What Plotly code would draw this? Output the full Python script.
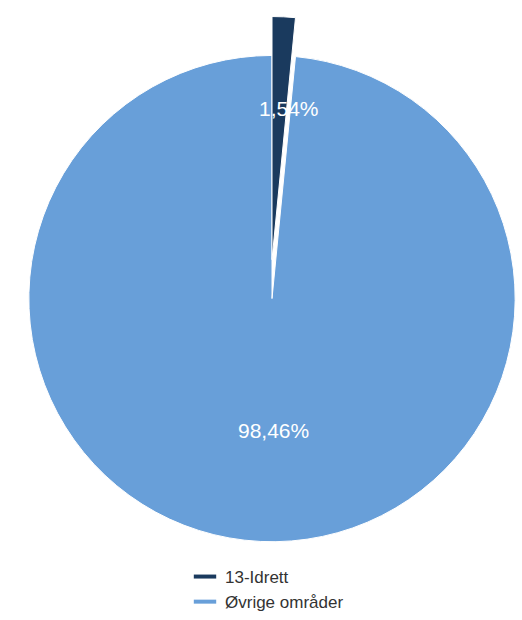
import plotly.graph_objects as go

labels = ["13-Idrett", "Øvrige områder"]
values = [1.54, 98.46]
colors = ["#1a3a5e", "#689fd9"]

W, H = 522, 620


def px_dom(x0, x1, top, bottom):
    # pixel box -> paper domain
    return dict(x=[x0 / W, x1 / W], y=[1 - bottom / H, 1 - top / H])


fig = go.Figure()

# main pie, first slot left empty (the slice is drawn pulled out below)
fig.add_trace(go.Pie(
    labels=labels, values=values, sort=False, direction="clockwise", rotation=0,
    marker=dict(colors=["rgba(0,0,0,0)", colors[1]], line=dict(color="white", width=[0, 1])),
    textinfo="none", hoverinfo="label+percent", showlegend=False,
    domain=px_dom(22, 522, 57, 557),
))

# pulled-out slice: same pie moved up
fig.add_trace(go.Pie(
    labels=labels, values=values, sort=False, direction="clockwise", rotation=0,
    marker=dict(colors=[colors[0], "rgba(0,0,0,0)"], line=dict(color="white", width=[1, 0])),
    textinfo="none", hoverinfo="label+percent", showlegend=False,
    domain=px_dom(22, 522, 17, 517),
))

# legend entries drawn as short bars
for lab, col in zip(labels, colors):
    fig.add_trace(go.Scatter(
        x=[None], y=[None], mode="markers", name=lab,
        marker=dict(symbol="line-ew", size=16, color=col, line=dict(color=col, width=4)),
    ))

# percentage labels
pct = [f"{v:.2f}%".replace(".", ",") for v in values]
label_pos = [(289, 112), (273, 443)]
for t, (lx, ly) in zip(pct, label_pos):
    fig.add_annotation(
        x=lx / W, y=1 - ly / H, xref="paper", yref="paper", text=t, showarrow=False,
        xanchor="center", yanchor="middle",
        font=dict(color="white", size=21, family="Liberation Sans"),
    )

fig.update_layout(
    width=W, height=H,
    margin=dict(l=0, r=0, t=0, b=0),
    paper_bgcolor="white", plot_bgcolor="white",
    xaxis=dict(visible=False), yaxis=dict(visible=False),
    font=dict(family="Liberation Sans", color="#333333"),
    legend=dict(
        x=185 / W, y=1 - 575 / H, xanchor="left", yanchor="top",
        font=dict(size=17, color="#333333"), bgcolor="rgba(0,0,0,0)",
        tracegroupgap=0,
    ),
)

fig.write_html(
    "out.html",
    config={"displayModeBar": False},
    post_script="document.body.style.margin='0';document.body.style.overflow='hidden';",
)
